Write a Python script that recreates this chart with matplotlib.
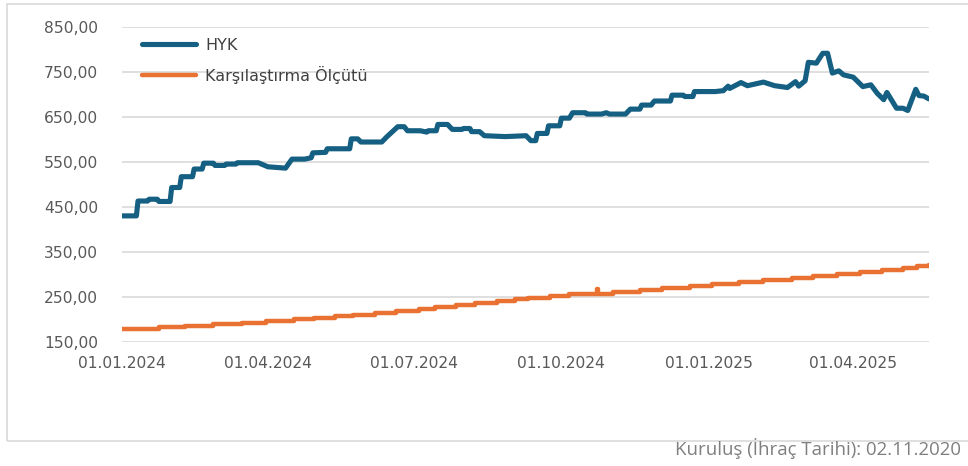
import numpy as np
import pandas as pd
import matplotlib
matplotlib.use('Agg')
import matplotlib.pyplot as plt
import matplotlib.dates as mdates
from matplotlib.ticker import FuncFormatter, FixedLocator
from matplotlib.patches import Rectangle

# HYK fund price (points at both ends of each step)
hyk_dates = ['2024-01-01', '2024-01-10', '2024-01-11', '2024-01-17', '2024-01-18', '2024-01-23',
             '2024-01-24', '2024-01-31', '2024-02-01', '2024-02-06', '2024-02-07', '2024-02-14',
             '2024-02-15', '2024-02-20', '2024-02-21', '2024-02-27', '2024-02-28', '2024-03-05',
             '2024-03-06', '2024-03-12', '2024-03-13', '2024-03-26', '2024-04-01', '2024-04-12',
             '2024-04-16', '2024-04-24', '2024-04-28', '2024-04-29', '2024-05-07', '2024-05-08',
             '2024-05-22', '2024-05-23', '2024-05-27', '2024-05-29', '2024-06-11', '2024-06-14',
             '2024-06-21', '2024-06-25', '2024-06-27', '2024-07-05', '2024-07-09', '2024-07-10',
             '2024-07-15', '2024-07-16', '2024-07-22', '2024-07-25', '2024-07-31', '2024-08-01',
             '2024-08-05', '2024-08-06', '2024-08-11', '2024-08-14', '2024-08-27', '2024-09-09',
             '2024-09-12', '2024-09-15', '2024-09-16', '2024-09-22', '2024-09-23', '2024-09-30',
             '2024-10-01', '2024-10-06', '2024-10-08', '2024-10-16', '2024-10-17', '2024-10-26',
             '2024-10-29', '2024-10-31', '2024-11-10', '2024-11-13', '2024-11-19', '2024-11-20',
             '2024-11-26', '2024-11-28', '2024-12-08', '2024-12-09', '2024-12-16', '2024-12-17',
             '2024-12-22', '2024-12-23', '2025-01-05', '2025-01-10', '2025-01-13', '2025-01-14',
             '2025-01-21', '2025-01-25', '2025-01-30', '2025-02-04', '2025-02-11', '2025-02-17',
             '2025-02-19', '2025-02-24', '2025-02-26', '2025-03-02', '2025-03-04', '2025-03-09',
             '2025-03-13', '2025-03-16', '2025-03-19', '2025-03-23', '2025-03-26', '2025-04-01',
             '2025-04-07', '2025-04-12', '2025-04-16', '2025-04-20', '2025-04-22', '2025-04-28',
             '2025-05-02', '2025-05-05', '2025-05-10', '2025-05-12', '2025-05-15', '2025-05-18']
hyk_values = [430, 430, 463, 463, 467, 467,
              462, 462, 493, 493, 517, 517,
              534, 534, 547, 547, 542, 542,
              545, 545, 548, 548, 539, 536,
              556, 556, 559, 570, 571, 579,
              579, 601, 601, 594, 594, 605,
              628, 628, 619, 619, 616, 619,
              619, 633, 633, 622, 622, 624,
              624, 617, 617, 608, 606, 608,
              597, 597, 613, 613, 630, 630,
              647, 647, 659, 659, 656, 656,
              659, 656, 656, 667, 667, 676,
              676, 685, 685, 698, 698, 695,
              695, 706, 706, 708, 718, 713,
              726, 719, 723, 727, 719, 716,
              715, 728, 718, 730, 771, 769,
              791, 791, 747, 752, 743, 738,
              717, 721, 702, 688, 704, 669,
              669, 664, 711, 697, 696, 690]

# Benchmark index (level after each step)
bm_dates = ['2024-01-01', '2024-01-24', '2024-02-09', '2024-02-27', '2024-03-16', '2024-03-31',
            '2024-04-17', '2024-04-30', '2024-05-13', '2024-05-24', '2024-06-07', '2024-06-20',
            '2024-07-04', '2024-07-14', '2024-07-27', '2024-08-08', '2024-08-22', '2024-09-02',
            '2024-09-10', '2024-09-24', '2024-10-06', '2024-10-23', '2024-10-24', '2024-11-02',
            '2024-11-19', '2024-12-03', '2024-12-20', '2025-01-03', '2025-01-20', '2025-02-04',
            '2025-02-22', '2025-03-07', '2025-03-22', '2025-04-05', '2025-04-19', '2025-05-02',
            '2025-05-11', '2025-05-18']
bm_values = [179, 182.5, 186, 189.5, 193, 196.5,
             200, 203.5, 207, 210.5, 214, 218,
             222.5, 227, 231.5, 236, 240.5, 244.5,
             248, 252, 256, 268, 256, 261,
             265.5, 270, 274.5, 279, 283.5, 288,
             292.5, 297, 301.5, 306, 310.5, 315,
             319, 320]

y_ticks = [150, 250, 350, 450, 550, 650, 750, 850]

hyk = pd.Series(hyk_values, index=pd.to_datetime(hyk_dates))
bm = pd.Series(bm_values, index=pd.to_datetime(bm_dates))

grey = '#595959'
plt.rcParams['font.family'] = 'DejaVu Sans'

fig = plt.figure(figsize=(9.68, 4.66), dpi=100)
ax = fig.add_axes([0.126, 0.2661, 0.8333, 0.6766])

ax.plot(hyk.index, hyk.values, color='#156082', lw=3.7, label='HYK',
        solid_joinstyle='round', solid_capstyle='round', zorder=3)
ax.plot(bm.index, bm.values, color='#E97132', lw=3.2, label='Karşılaştırma Ölçütü',
        drawstyle='steps-post', solid_joinstyle='round', solid_capstyle='round', zorder=3)

ax.set_ylim(150, 850)
ax.set_xlim(pd.Timestamp('2024-01-01'), pd.Timestamp('2025-05-18'))
ax.yaxis.set_major_locator(FixedLocator(y_ticks))
ax.yaxis.set_major_formatter(FuncFormatter(lambda v, p: f'{v:.2f}'.replace('.', ',')))
ax.xaxis.set_major_locator(mdates.MonthLocator(bymonth=[1, 4, 7, 10]))
ax.xaxis.set_major_formatter(mdates.DateFormatter('%d.%m.%Y'))

ax.grid(True, axis='y', color='#D9D9D9', lw=1.2, zorder=1)
for s in ax.spines.values():
    s.set_visible(False)
ax.tick_params(axis='both', length=0, labelsize=11.2, labelcolor=grey)
ax.tick_params(axis='y', pad=17)
ax.tick_params(axis='x', pad=10)

leg = ax.legend(loc='upper left', bbox_to_anchor=(142 / 968, 1 - 38 / 466),
                bbox_transform=fig.transFigure, frameon=False, fontsize=11.5,
                handlelength=3.4, handletextpad=0.55, labelspacing=0.8,
                borderpad=0, borderaxespad=0)
for t in leg.get_texts():
    t.set_color('#404040')

# light frame around the chart area
fig.add_artist(Rectangle((7 / 968, 1 - 441 / 466), 1.0, 437 / 466,
                         transform=fig.transFigure, fill=False,
                         edgecolor='#D9D9D9', lw=1.2))

fig.text(961 / 968, 1 - 449 / 466, 'Kuruluş (İhraç Tarihi): 02.11.2020',
         ha='right', va='center', fontsize=13.4, color='#7F7F7F', family='Open Sans')

fig.savefig('out.png', dpi=100)
